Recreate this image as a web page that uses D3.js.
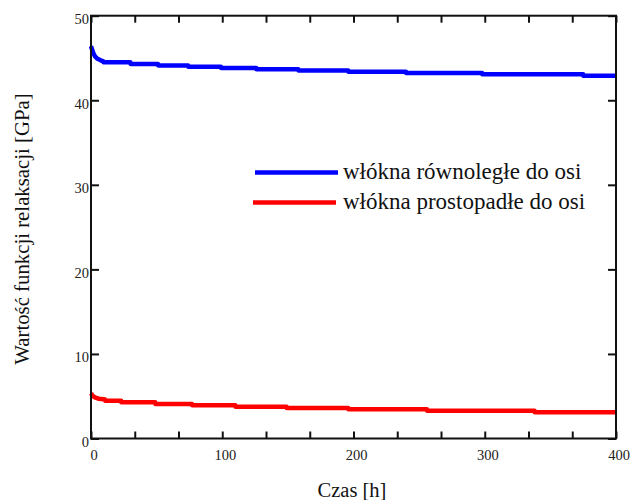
<!DOCTYPE html>
<html><head><meta charset="utf-8">
<script src="https://cdn.jsdelivr.net/npm/d3@7"></script>
<style>body{margin:0;background:#fff;} svg{display:block;}</style>
</head><body>
<svg id="c" width="631" height="500"></svg>
<script>
// time [h]
const tBlue = [0, 1, 2, 3, 5, 7, 9.4, 9.5, 30, 30.1, 51, 51.1, 74, 74.1, 99, 99.1, 126, 126.1, 158, 158.1, 196, 196.1, 240, 240.1, 298, 298.1, 375, 375.1, 400];
const vBlue = [46.4, 45.9, 45.5, 45.2, 44.9, 44.75, 44.6, 44.5, 44.5, 44.3, 44.3, 44.12, 44.12, 43.97, 43.97, 43.82, 43.82, 43.66, 43.66, 43.52, 43.52, 43.37, 43.37, 43.22, 43.22, 43.07, 43.07, 42.9, 42.9];
const tRed = [0, 1, 2, 4, 6, 10.7, 10.8, 23, 23.1, 49, 49.1, 77, 77.1, 110, 110.1, 149, 149.1, 196, 196.1, 256, 256.1, 338, 338.1, 400];
const vRed = [5.35, 5.1, 4.95, 4.8, 4.7, 4.6, 4.45, 4.45, 4.28, 4.28, 4.08, 4.08, 3.92, 3.92, 3.76, 3.76, 3.6, 3.6, 3.45, 3.45, 3.27, 3.27, 3.1, 3.1];
const seriesNames = ["włókna równoległe do osi", "włókna prostopadłe do osi"];
const seriesColors = ["#0000ff", "#ff0000"];
const xTickLabels = [0, 100, 200, 300, 400];
const xMinorTicks = d3.range(0, 400.001, 100/3);
const yTickLabels = [0, 10, 20, 30, 40, 50];
const xTitle = "Czas [h]";
const yTitle = "Wartość funkcji relaksacji [GPa]";

const svg = d3.select("#c");
const L = 91, R = 616, T = 15.7, B = 438.5;
const x = d3.scaleLinear().domain([0, 400]).range([L, R]);
const y = d3.scaleLinear().domain([0, 50]).range([B, T]);
const font = "'Liberation Serif', 'Times New Roman', serif";

// series
const line = d3.line().x(d => x(d[0])).y(d => y(d[1]));
const data = [d3.zip(tBlue, vBlue), d3.zip(tRed, vRed)];
svg.selectAll("path.s").data(data).join("path")
  .attr("class", "s").attr("d", line).attr("fill", "none")
  .attr("stroke", (d, i) => seriesColors[i]).attr("stroke-width", 4.5)
  .attr("stroke-linejoin", "round");

// axes (inner ticks)
const tickLen = 7;
const gB = svg.append("g").attr("transform", `translate(0,${B})`)
  .call(d3.axisTop(x).tickValues(xMinorTicks).tickSize(tickLen).tickFormat(""));
const gT = svg.append("g").attr("transform", `translate(0,${T})`)
  .call(d3.axisBottom(x).tickValues(xMinorTicks).tickSize(tickLen).tickFormat(""));
const gL = svg.append("g").attr("transform", `translate(${L},0)`)
  .call(d3.axisRight(y).tickValues(yTickLabels).tickSize(tickLen + 1).tickFormat(""));
const gR = svg.append("g").attr("transform", `translate(${R},0)`)
  .call(d3.axisLeft(y).tickValues(yTickLabels).tickSize(tickLen + 1).tickFormat(""));
[gB, gT, gL, gR].forEach(g => {
  g.select(".domain").remove();
  g.selectAll(".tick line").attr("stroke", "#111").attr("stroke-width", 2);
});
svg.append("rect").attr("x", L).attr("y", T).attr("width", R - L).attr("height", B - T)
  .attr("fill", "none").attr("stroke", "#111").attr("stroke-width", 2);

// tick labels
svg.selectAll("text.xl").data(xTickLabels).join("text").attr("class", "xl")
  .attr("x", d => x(d) + 3).attr("y", B + 21).attr("text-anchor", "middle")
  .attr("font-family", font).attr("font-size", 14.5).attr("fill", "#222").text(d => d);
svg.selectAll("text.yl").data(yTickLabels).join("text").attr("class", "yl")
  .attr("x", L - 2).attr("y", d => y(d) + 8.5).attr("text-anchor", "end")
  .attr("font-family", font).attr("font-size", 14.5).attr("fill", "#222").text(d => d);

// titles
svg.append("text").attr("x", 352).attr("y", 497).attr("text-anchor", "middle")
  .attr("font-family", font).attr("font-size", 20.5).attr("fill", "#111").text(xTitle);
svg.append("text").attr("transform", "translate(29,229) rotate(-90)").attr("text-anchor", "middle")
  .attr("font-family", font).attr("font-size", 20.8).attr("fill", "#111").text(yTitle);

// legend
const leg = svg.append("g");
const legY = [172.5, 202.5];
seriesNames.forEach((n, i) => {
  leg.append("line").attr("x1", 255 - 2 * i).attr("x2", 338 - 2 * i).attr("y1", legY[i]).attr("y2", legY[i])
    .attr("stroke", seriesColors[i]).attr("stroke-width", 4.5);
  leg.append("text").attr("x", 343).attr("y", legY[i] + 6).attr("font-family", font)
    .attr("font-size", 23).attr("fill", "#111").text(n);
});
</script>
</body></html>
